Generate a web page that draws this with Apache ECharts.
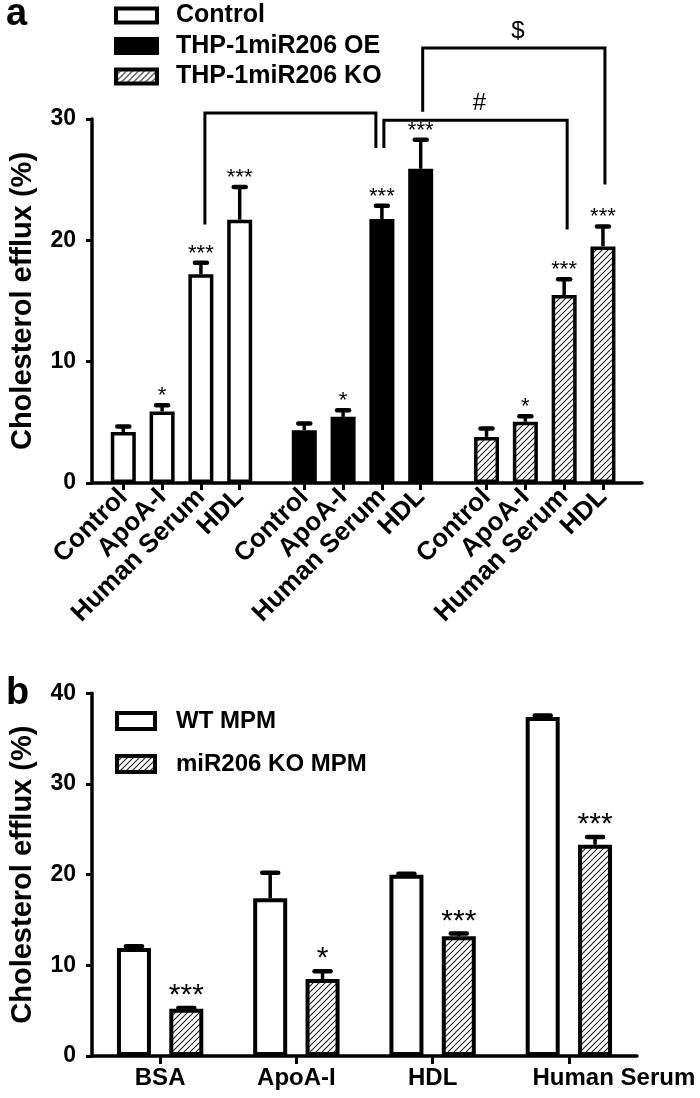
<!DOCTYPE html>
<html><head><meta charset="utf-8">
<script src="https://cdn.jsdelivr.net/npm/echarts@6/dist/echarts.min.js"></script>
<style>html,body{margin:0;padding:0;background:#fff}#c{width:700px;height:1098px}</style>
</head><body><div id="c"></div>
<script>
// ---------- Panel a data ----------
const treatmentsA = ['Control', 'ApoA-I', 'Human Serum', 'HDL'];
const groupsA = ['Control', 'THP-1miR206 OE', 'THP-1miR206 KO'];
const ctrlValues = [4.2, 5.9, 17.2, 21.7];
const ctrlErrors = [0.45, 0.5, 0.95, 2.7];
const oeValues = [4.35, 5.45, 21.75, 25.9];
const oeErrors = [0.55, 0.55, 1.1, 2.4];
const koValues = [3.8, 5.05, 15.5, 19.5];
const koErrors = [0.7, 0.45, 1.3, 1.65];
const ctrlStars = ['', '*', '***', '***'];
const oeStars = ['', '*', '***', '***'];
const koStars = ['', '*', '***', '***'];
const yTicksA = [0, 10, 20, 30];
const yNameA = 'Cholesterol efflux (%)';
// significance brackets: ends as [group, treatment]; heights in % units
const bracketsA = [
  { label: '',  from: [0, 2], to: [1, 2], top: 30.5,  fromEnd: 21.3, toEnd: 27.6 },
  { label: '#', from: [1, 2], to: [2, 2], top: 29.9,  fromEnd: 27.6, toEnd: 20.9 },
  { label: '$', from: [1, 3], to: [2, 3], top: 35.85, fromEnd: 30.6, toEnd: 24.6 }
];

// ---------- Panel b data ----------
const treatmentsB = ['BSA', 'ApoA-I', 'HDL', 'Human Serum'];
const groupsB = ['WT MPM', 'miR206 KO MPM'];
const wtValues = [11.9, 17.4, 20.0, 37.4];
const wtErrors = [0.2, 2.8, 0.1, 0.15];
const koMpmValues = [5.2, 8.5, 13.2, 23.3];
const koMpmErrors = [0.1, 0.85, 0.3, 0.85];
const wtStars = ['', '', '', ''];
const koMpmStars = ['***', '*', '***', '***'];
const yTicksB = [0, 10, 20, 30, 40];
const yNameB = 'Cholesterol efflux (%)';

// ---------- styles ----------
const FONT = '"Liberation Sans", Arial, sans-serif';
const bracketNudge = [[4, -6], [2, 3], [2, 2]];
const labelShiftB = [0, 0, 0, 90]; // left padding of x labels in panel b

function hatch() {
  const c = document.createElement('canvas');
  c.width = 6; c.height = 6;
  const g = c.getContext('2d');
  g.fillStyle = '#fff'; g.fillRect(0, 0, 6, 6);
  g.strokeStyle = '#222'; g.lineWidth = 1.1;
  g.beginPath();
  g.moveTo(-1, 7); g.lineTo(7, -1);
  g.moveTo(-1, 1); g.lineTo(1, -1);
  g.moveTo(5, 7); g.lineTo(7, 5);
  g.stroke();
  return { image: c, repeat: 'repeat' };
}
const HATCH = hatch();

const chart = echarts.init(document.getElementById('c'), null, { renderer: 'canvas' });

const slotA = 38.8;
const groupCentersA = [181.5, 362.5, 544.75];
const gridsA = groupCentersA.map(c => ({ left: c - 2 * slotA, width: 4 * slotA, top: 119, bottom: 1098 - 483 }));

function errSeries(axisIdx, values, errors, stars, offset, o) {
  return {
    type: 'custom', xAxisIndex: axisIdx, yAxisIndex: axisIdx, clip: false, z: 5, silent: true,
    data: values.map((v, i) => [i, v, v + errors[i]]),
    renderItem: function (params, api) {
      const i = api.value(0);
      const base = api.coord([i, api.value(1)]);
      const top = api.coord([i, api.value(2)]);
      const x = base[0] + offset;
      const ch = [
        { type: 'line', shape: { x1: x, y1: base[1], x2: x, y2: top[1] }, style: { stroke: '#000', lineWidth: o.lw } },
        { type: 'line', shape: { x1: x - o.cap, y1: top[1], x2: x + o.cap, y2: top[1] }, style: { stroke: '#000', lineWidth: o.capW, lineCap: 'round' } }
      ];
      const s = stars[params.dataIndex];
      if (s) ch.push({ type: 'text', style: { x: x, y: top[1] - o.starGap, text: s, fill: '#000', fontSize: o.starSize, fontFamily: FONT, align: 'center', verticalAlign: 'middle' } });
      return { type: 'group', children: ch };
    }
  };
}

const optA = { lw: 3.5, cap: 6, capW: 4.5, starGap: 9, starSize: 22 };
const optB = { lw: 3.5, cap: 8, capW: 4.5, starGap: 12, starSize: 30 };
const barWB = 34, barGapB = 0.54;
const offB = barWB * (1 + barGapB) / 2;

const yAxisStyle = {
  axisLine: { show: true, lineStyle: { color: '#000', width: 3.5 } },
  axisTick: { show: true, length: 6, lineStyle: { color: '#000', width: 3 } },
  axisLabel: { color: '#000', fontFamily: FONT, fontWeight: 'bold', fontSize: 23, margin: 16 },
  splitLine: { show: false },
  nameLocation: 'middle', nameRotate: 90, nameGap: 55,
  nameTextStyle: { color: '#000', fontFamily: FONT, fontWeight: 'bold', fontSize: 29 }
};

const option = {
  animation: false,
  backgroundColor: '#fff',
  grid: [
    { left: 90, right: 700 - 642, top: 119, bottom: 1098 - 483 },
    ...gridsA,
    { left: 90, right: 700 - 637, top: 693.3, bottom: 1098 - 1056 }
  ],
  xAxis: [
    { gridIndex: 0, type: 'category', data: [''], axisLine: { lineStyle: { color: '#000', width: 3.5 } }, axisTick: { show: false }, axisLabel: { show: false } },
    ...gridsA.map((g, k) => ({
      gridIndex: k + 1, type: 'category', data: treatmentsA,
      axisLine: { show: false },
      axisTick: { show: true, alignWithLabel: true, length: 7, lineStyle: { color: '#000', width: 3 } },
      axisLabel: { interval: 0, rotate: 45, color: '#000', fontFamily: FONT, fontWeight: 'bold', fontSize: 26, margin: 10 }
    })),
    {
      gridIndex: 4, type: 'category',
      data: treatmentsB.map((t, i) => ({ value: t, textStyle: { padding: [0, 0, 0, labelShiftB[i]] } })),
      axisLine: { lineStyle: { color: '#000', width: 3.5 } },
      axisTick: { show: true, alignWithLabel: true, length: 8, lineStyle: { color: '#000', width: 3 } },
      axisLabel: { interval: 0, color: '#000', fontFamily: FONT, fontWeight: 'bold', fontSize: 24, margin: 10 }
    }
  ],
  yAxis: [
    Object.assign({ gridIndex: 0, type: 'value', min: yTicksA[0], max: yTicksA[yTicksA.length - 1], interval: yTicksA[1] - yTicksA[0], name: yNameA }, yAxisStyle),
    ...gridsA.map((g, k) => ({ gridIndex: k + 1, type: 'value', min: yTicksA[0], max: yTicksA[yTicksA.length - 1], show: false, splitLine: { show: false } })),
    Object.assign({ gridIndex: 4, type: 'value', min: yTicksB[0], max: yTicksB[yTicksB.length - 1], interval: yTicksB[1] - yTicksB[0], name: yNameB }, yAxisStyle)
  ],
  legend: [
    {
      data: groupsA, orient: 'vertical', left: 114, top: 3, padding: 0, icon: 'rect', itemWidth: 41, itemHeight: 14, itemGap: 5.5,
      selectedMode: false, itemStyle: { borderWidth: 4, borderColor: '#000' },
      textStyle: { color: '#000', fontFamily: FONT, fontWeight: 'bold', fontSize: 25, padding: [0, 0, 0, 14] }
    },
    {
      data: groupsB, orient: 'vertical', left: 115, top: 709, padding: 0, icon: 'rect', itemWidth: 38, itemHeight: 16, itemGap: 19,
      selectedMode: false, itemStyle: { borderWidth: 4, borderColor: '#000' },
      textStyle: { color: '#000', fontFamily: FONT, fontWeight: 'bold', fontSize: 24, padding: [0, 0, 0, 16] }
    }
  ],
  series: [
    { type: 'bar', name: groupsA[0], xAxisIndex: 1, yAxisIndex: 1, data: ctrlValues, barWidth: 25, itemStyle: { color: '#fff', borderColor: '#000', borderWidth: 3.5 } },
    { type: 'bar', name: groupsA[1], xAxisIndex: 2, yAxisIndex: 2, data: oeValues, barWidth: 25, itemStyle: { color: '#000', borderColor: '#000', borderWidth: 3.5 } },
    { type: 'bar', name: groupsA[2], xAxisIndex: 3, yAxisIndex: 3, data: koValues, barWidth: 25, itemStyle: { color: HATCH, borderColor: '#000', borderWidth: 3.5 } },
    errSeries(1, ctrlValues, ctrlErrors, ctrlStars, 0, optA),
    errSeries(2, oeValues, oeErrors, oeStars, 0, optA),
    errSeries(3, koValues, koErrors, koStars, 0, optA),
    { type: 'bar', name: groupsB[0], xAxisIndex: 4, yAxisIndex: 4, data: wtValues, barWidth: barWB, barGap: (barGapB * 100) + '%', itemStyle: { color: '#fff', borderColor: '#000', borderWidth: 4 } },
    { type: 'bar', name: groupsB[1], xAxisIndex: 4, yAxisIndex: 4, data: koMpmValues, barWidth: barWB, barGap: (barGapB * 100) + '%', itemStyle: { color: HATCH, borderColor: '#000', borderWidth: 4 } },
    errSeries(4, wtValues, wtErrors, wtStars, -offB, optB),
    errSeries(4, koMpmValues, koMpmErrors, koMpmStars, offB, optB)
  ]
};
chart.setOption(option);

// brackets and panel letters
const gfx = [
  { type: 'text', left: 6, top: -4, style: { text: 'a', fill: '#000', fontFamily: FONT, fontWeight: 'bold', fontSize: 38 } },
  { type: 'text', left: 6, top: 675, style: { text: 'b', fill: '#000', fontFamily: FONT, fontWeight: 'bold', fontSize: 38 } }
];
bracketsA.forEach((b, k) => {
  const p = (end, v) => chart.convertToPixel({ xAxisIndex: end[0] + 1, yAxisIndex: end[0] + 1 }, [end[1], v]);
  const a1 = p(b.from, b.fromEnd), a2 = p(b.from, b.top);
  const c1 = p(b.to, b.toEnd), c2 = p(b.to, b.top);
  const xa = a1[0] + bracketNudge[k][0], xc = c1[0] + bracketNudge[k][1];
  gfx.push({ type: 'polyline', shape: { points: [[xa, a1[1]], [xa, a2[1]], [xc, c2[1]], [xc, c1[1]]] }, style: { stroke: '#000', lineWidth: 3, fill: null } });
  if (b.label) gfx.push({ type: 'text', x: (xa + xc) / 2 + 4, y: a2[1] - 17, style: { text: b.label, fill: '#000', fontFamily: FONT, fontSize: 24, align: 'center', verticalAlign: 'middle' } });
});
chart.setOption({ graphic: gfx });
</script>
</body></html>
